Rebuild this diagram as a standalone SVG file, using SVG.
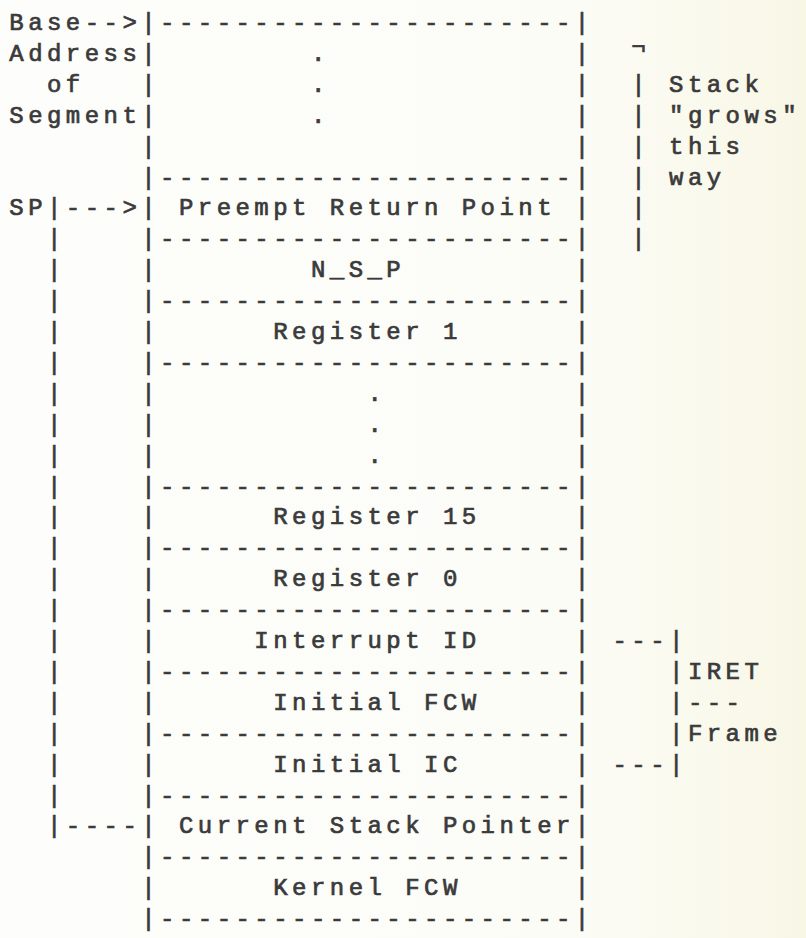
<svg xmlns="http://www.w3.org/2000/svg" width="806" height="938" viewBox="0 0 806 938">
<defs>
<linearGradient id="paper" x1="0" y1="0" x2="1" y2="0">
<stop offset="0" stop-color="#fdfdfb"/>
<stop offset="0.7" stop-color="#fcfcf7"/>
<stop offset="1" stop-color="#f8f7e6"/>
</linearGradient>
<style>
text{font-family:"Liberation Mono","DejaVu Sans Mono",monospace;font-size:24px;letter-spacing:4.45px;fill:#3a3a3a;stroke:#3a3a3a;stroke-width:0.7px;white-space:pre}
</style>
</defs>
<rect width="806" height="938" fill="url(#paper)"/>

<g id="labels">
<text x="9.3" y="30">Base--&gt;</text>
<text x="9.3" y="60.9">Address</text>
<text x="47" y="91.8">of</text>
<text x="9.3" y="122.7">Segment</text>
<text x="9.3" y="215.4">SP</text>
</g>

<g id="stack-frame">
<g id="borders">
<text x="141.25" y="30">|----------------------|</text>
<text x="141.25" y="184.5">|----------------------|</text>
<text x="141.25" y="246.3">|----------------------|</text>
<text x="141.25" y="308.1">|----------------------|</text>
<text x="141.25" y="369.9">|----------------------|</text>
<text x="141.25" y="493.5">|----------------------|</text>
<text x="141.25" y="555.3">|----------------------|</text>
<text x="141.25" y="617.1">|----------------------|</text>
<text x="141.25" y="678.9">|----------------------|</text>
<text x="141.25" y="740.7">|----------------------|</text>
<text x="141.25" y="802.5">|----------------------|</text>
<text x="141.25" y="864.3">|----------------------|</text>
<text x="141.25" y="926.1">|----------------------|</text>
</g>
<g id="node-segment-free">
<text x="141.25" y="60.9">|        .             |</text>
<text x="141.25" y="91.8">|        .             |</text>
<text x="141.25" y="122.7">|        .             |</text>
<text x="141.25" y="153.6">|                      |</text>
</g>
<g id="node-preempt"><text x="141.25" y="215.4">| Preempt Return Point |</text></g>
<g id="node-nsp"><text x="141.25" y="277.2">|        N_S_P         |</text></g>
<g id="node-reg1"><text x="141.25" y="339">|      Register 1      |</text></g>
<g id="node-regs">
<text x="141.25" y="400.8">|           .          |</text>
<text x="141.25" y="431.7">|           .          |</text>
<text x="141.25" y="462.6">|           .          |</text>
</g>
<g id="node-reg15"><text x="141.25" y="524.4">|      Register 15     |</text></g>
<g id="node-reg0"><text x="141.25" y="586.2">|      Register 0      |</text></g>
<g id="node-intid"><text x="141.25" y="648">|     Interrupt ID     |</text></g>
<g id="node-initfcw"><text x="141.25" y="709.8">|      Initial FCW     |</text></g>
<g id="node-initic"><text x="141.25" y="771.6">|      Initial IC      |</text></g>
<g id="node-csp"><text x="141.25" y="833.4">| Current Stack Pointer|</text></g>
<g id="node-kernelfcw"><text x="141.25" y="895.2">|      Kernel FCW      |</text></g>
</g>

<g id="connectors">
<text x="47" y="215.4">|---&gt;</text>
<text x="47" y="246.3">|</text>
<text x="47" y="277.2">|</text>
<text x="47" y="308.1">|</text>
<text x="47" y="339">|</text>
<text x="47" y="369.9">|</text>
<text x="47" y="400.8">|</text>
<text x="47" y="431.7">|</text>
<text x="47" y="462.6">|</text>
<text x="47" y="493.5">|</text>
<text x="47" y="524.4">|</text>
<text x="47" y="555.3">|</text>
<text x="47" y="586.2">|</text>
<text x="47" y="617.1">|</text>
<text x="47" y="648">|</text>
<text x="47" y="678.9">|</text>
<text x="47" y="709.8">|</text>
<text x="47" y="740.7">|</text>
<text x="47" y="771.6">|</text>
<text x="47" y="802.5">|</text>
<text x="47" y="833.4">|----</text>
<text x="631.35" y="54">¬</text>
<text x="631.35" y="91.8">|</text>
<text x="631.35" y="122.7">|</text>
<text x="631.35" y="153.6">|</text>
<text x="631.35" y="184.5">|</text>
<text x="631.35" y="215.4">|</text>
<text x="631.35" y="246.3">|</text>
<text x="612.5" y="648">---|</text>
<text x="669.05" y="678.9">|</text>
<text x="669.05" y="709.8">|</text>
<text x="669.05" y="740.7">|</text>
<text x="612.5" y="771.6">---|</text>
</g>

<g id="annotations">
<text x="669.05" y="91.8">Stack</text>
<text x="669.05" y="122.7">"grows"</text>
<text x="669.05" y="153.6">this</text>
<text x="669.05" y="184.5">way</text>
<text x="687.9" y="678.9">IRET</text>
<text x="687.9" y="709.8">---</text>
<text x="687.9" y="740.7">Frame</text>
</g>
</svg>
